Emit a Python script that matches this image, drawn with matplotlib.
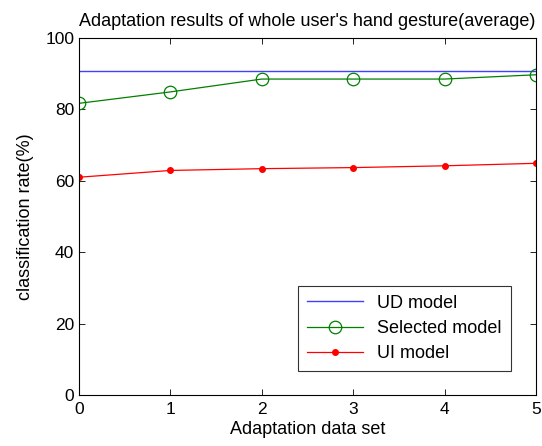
import numpy as np
import matplotlib.pyplot as plt

plt.rcParams['font.family'] = ['Liberation Sans', 'DejaVu Sans']

x = [0, 1, 2, 3, 4, 5]
ud = [90.8, 90.8, 90.8, 90.8, 90.8, 90.8]
selected = [81.7, 84.9, 88.5, 88.5, 88.5, 89.7]
ui = [61.0, 62.9, 63.4, 63.7, 64.2, 64.9]

fig = plt.figure(figsize=(5.42, 4.46), dpi=100)
# axes box in pixels: left 79, right 536, top 38, bottom 395
ax = fig.add_axes([79/542, 51/446, 457/542, 357/446])

ax.plot(x, ud, '-', color='#4040ff', lw=1.0, label='UD model')
ax.plot(x, selected, '-o', color=(0, 0.5, 0), lw=0.9, mfc='none', ms=9, mew=0.9, label='Selected model')
ax.plot(x, ui, '-o', color='red', lw=0.9, ms=4, label='UI model')

ax.set_xlim(0, 5)
ax.set_ylim(0, 100)
ax.set_xticks(x)
ax.set_yticks([0, 20, 40, 60, 80, 100])
ax.tick_params(direction='in', top=True, right=True, labelsize=12.5, length=4, width=0.6)
ax.tick_params(axis='x', pad=5)
for s in ax.spines.values():
    s.set_linewidth(0.8)

ax.set_title("Adaptation results of whole user's hand gesture(average)", fontsize=13, pad=9)
ax.set_xlabel('Adaptation data set', fontsize=13, labelpad=3)
ax.set_ylabel('classification rate(%)', fontsize=13, labelpad=8)

leg = ax.legend(loc='lower right', bbox_to_anchor=(0.945, 0.067), fontsize=13,
                fancybox=False, edgecolor='black', handlelength=3.1, borderaxespad=0,
                labelspacing=0.45, borderpad=0.5)
leg.get_frame().set_linewidth(0.8)

fig.savefig('out.png', dpi=100)
